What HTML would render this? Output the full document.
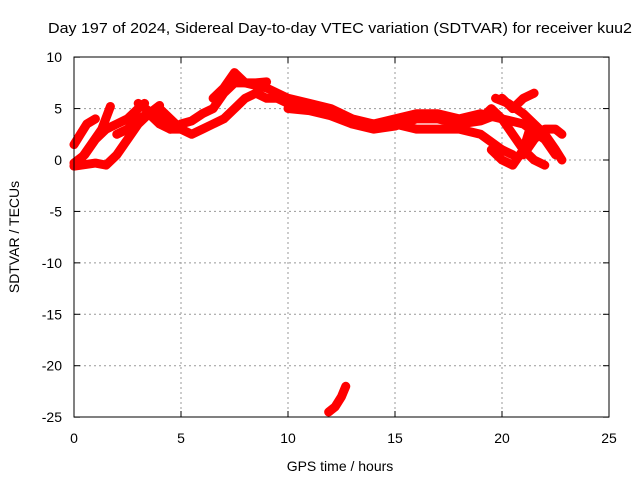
<!DOCTYPE html>
<html><head><meta charset="utf-8"><style>
body{margin:0;background:#fff}
svg{display:block;font-family:"Liberation Sans",sans-serif}
</style></head><body>
<svg id="c" width="640" height="480">
<rect width="640" height="480" fill="#fff"/>
<text x="340" y="33" font-size="15" text-anchor="middle" textLength="584" lengthAdjust="spacingAndGlyphs">Day 197 of 2024, Sidereal Day-to-day VTEC variation (SDTVAR) for receiver kuu2</text>
<text x="340" y="471" font-size="14" text-anchor="middle">GPS time / hours</text>
<text x="0" y="0" font-size="14" text-anchor="middle" transform="translate(19,237) rotate(-90)">SDTVAR / TECUs</text>
<g id="grid"></g><g id="marks"></g>
<rect x="74" y="57" width="535" height="360" fill="none" stroke="#000" stroke-width="1"/>
</svg>
<script>
const xTicks=[0,5,10,15,20,25];
const yTicks=[10,5,0,-5,-10,-15,-20,-25];
const track1=[[0,1.5],[0.3,2.5],[0.6,3.5],[1,4]];
const track2=[[0,-0.6],[1,-0.3],[1.5,-0.5],[2,0.5],[2.5,2],[3,3.5],[3.5,4.5],[4,5.3]];
const track3=[[0,-0.3],[0.5,0.5],[1,2],[1.5,3],[2,3.5],[2.5,4],[3,5],[3.3,5.5]];
const track4=[[0.3,0],[0.8,1.5],[1.3,3],[1.7,5.2]];
const track5=[[4,5],[4.5,4],[5,3],[5.5,2.5],[6,3],[6.5,3.5],[7,4],[7.5,5],[8,6],[8.5,6.5],[9,6],[9.5,6],[10,5.5],[11,5],[12,4.5],[13,3.8],[14,3.5],[15,4],[16,4.5],[17,4.5],[18,4],[19,4.5],[20,4],[21,3.5],[22,2],[22.5,0.5]];
const track6=[[3,5.5],[4,4],[4.5,3],[5,3.5],[5.5,3.8],[6,4.5],[6.5,5],[7,6.5],[7.5,7.5],[8,7.5],[9,7],[10,6],[11,5.5],[12,5],[13,4],[14,3.5],[15,3.5],[16,3],[17,3],[18,3],[19,2.5],[20,1],[20.5,0.5]];
const track7=[[6.5,6],[7,7],[7.5,8.5],[8,7.5],[8.5,7.5],[9,7.6]];
const track8=[[19.7,6],[20.3,5.5],[21,4.5],[21.5,3.5],[22,2.5],[22.5,1],[22.8,0]];
const track9=[[20,6],[20.5,5],[21,6],[21.5,6.5]];
const track10=[[21,0.5],[21.5,2],[22,3],[22.5,3],[22.8,2.5]];
const track11=[[19.5,1],[20,0],[20.5,-0.5],[21,1],[21.3,3]];
const track12=[[19,4],[19.5,5],[20,4],[20.5,2.5],[21,1],[21.5,0],[22,-0.5]];
const track13=[[11.9,-24.5],[12.2,-24],[12.5,-23],[12.7,-22]];
const track14=[[10,5],[11,4.8],[12,4.3],[13,3.5],[14,3],[15,3.3],[16,4],[17,4],[18,3.5],[19,3.8],[19.5,4.2]];
const track15=[[2,2.5],[2.5,3],[3,4],[3.5,4.5],[4,3.5],[4.5,3],[5,3]];
const tracks=[track1,track2,track3,track4,track5,track6,track7,track8,track9,track10,track11,track12,track13,track14,track15];
const X=v=>74+v*(535/25), Y=v=>160-v*(360/35);
const NS="http://www.w3.org/2000/svg";
const g=document.getElementById('grid'), m=document.getElementById('marks');
function mk(t,a,p){const e=document.createElementNS(NS,t);for(const k in a)e.setAttribute(k,a[k]);p.appendChild(e);return e;}
xTicks.forEach(v=>{
 if(v>0&&v<25){const l=mk('line',{x1:X(v),x2:X(v),y1:57,y2:417,stroke:'#999','stroke-dasharray':'2,3'},g);
 
 }
 const t=mk('text',{x:X(v),y:443,'font-size':14,'text-anchor':'middle'},g);t.textContent=v;
 
 
 mk('line',{x1:X(v),x2:X(v),y1:417,y2:411,stroke:'#000'},g);mk('line',{x1:X(v),x2:X(v),y1:57,y2:63,stroke:'#000'},g);
});
yTicks.forEach(v=>{
 if(v<10&&v>-25){const l=mk('line',{x1:74,x2:609,y1:Y(v),y2:Y(v),stroke:'#999','stroke-dasharray':'2,3'},g);
 
 }
 const t=mk('text',{x:62,y:Y(v)+5,'font-size':14,'text-anchor':'end'},g);t.textContent=v;
 
 
 mk('line',{x1:74,x2:80,y1:Y(v),y2:Y(v),stroke:'#000'},g);mk('line',{x1:609,x2:603,y1:Y(v),y2:Y(v),stroke:'#000'},g);
});
tracks.forEach(tr=>{
 const p=mk('polyline',{points:tr.map(d=>X(d[0])+','+Y(d[1])).join(' '),fill:'none',stroke:'#f00','stroke-width':9,'stroke-linejoin':'round','stroke-linecap':'round'},m);
 
 
});
</script>
</body></html>
